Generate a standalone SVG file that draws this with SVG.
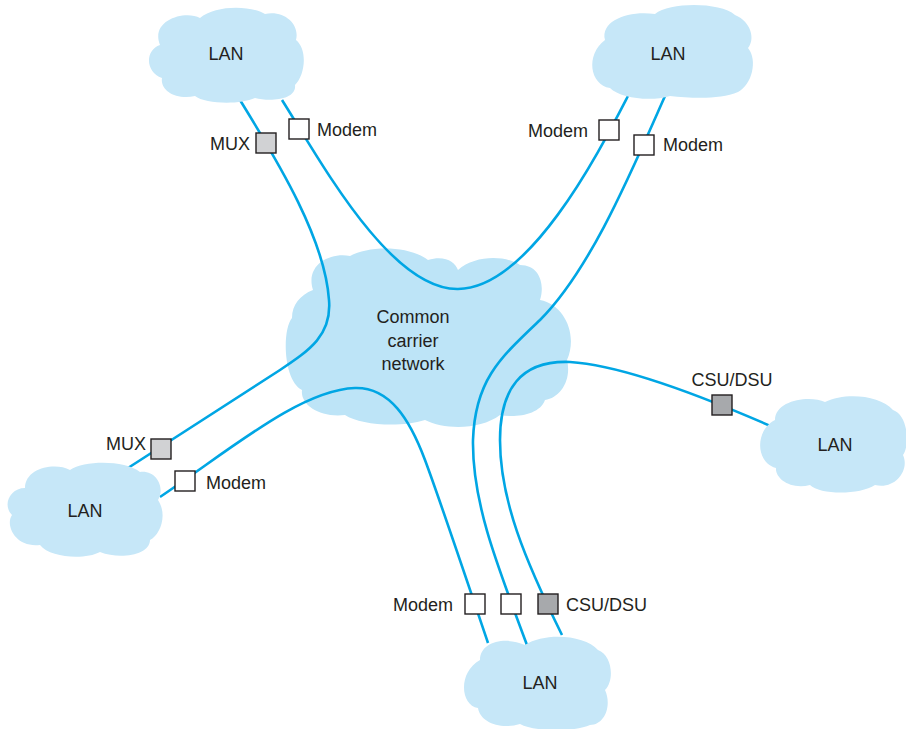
<svg xmlns="http://www.w3.org/2000/svg" width="906" height="729" viewBox="0 0 906 729">
<style>
.cloud{fill:#c6e7f8;stroke:none}
.core{fill:#bde4f7;stroke:none}
.link{fill:none;stroke:#00a6e4;stroke-width:2.6}
.box{stroke:#231f20;stroke-width:1.4}
.w{fill:#ffffff}
.g1{fill:#d1d2d4}
.g2{fill:#a7a9ac}
text{font-family:"Liberation Sans",Arial,sans-serif;font-size:18px;fill:#231f20}
.m{text-anchor:middle}
.e{text-anchor:end}
</style>
<rect width="906" height="729" fill="#ffffff"/>
<g id="carrier">
<path class="core" d="M313,290 C305,265 330,252 350,256 C370,245 410,246 428,260 C445,255 455,262 458,270 C475,255 505,255 520,265 C540,265 545,285 540,300 C565,305 578,335 567,360 C572,380 560,398 545,400 C540,415 515,418 500,415 C480,430 445,430 425,420 C400,428 360,425 345,415 C320,418 300,405 302,390 C283,380 282,330 292,318 C292,305 300,295 313,290 Z"/>
<text class="m" x="413" y="323">Common</text>
<text class="m" x="413" y="347">carrier</text>
<text class="m" x="413" y="370">network</text>
</g>
<g id="connectors">
<path class="link" d="M240,100 C280,165 325,240 329,300 C332,335 310,350 280,370 L128,468"/>
<path class="link" d="M282,100 C320,160 390,290 458,289 C530,288 600,150 628,96"/>
<path class="link" d="M665,96 C630,175 590,270 540,320 C500,358 475,380 473,440 C472,500 495,560 527,645"/>
<path class="link" d="M160,497 C230,450 300,390 355,388 C390,387 410,420 425,460 C440,500 470,590 488,643"/>
<path class="link" d="M775,428 C700,395 620,365 570,362 C520,360 500,390 500,440 C500,500 525,560 562,635"/>
</g>
<g id="lan-top-left">
<path class="cloud" d="M160,45 C150,20 185,10 200,18 C215,5 250,5 265,14 C285,10 300,25 296,40 C308,50 305,75 295,85 C297,100 270,102 255,98 C240,105 205,104 195,96 C175,100 160,90 162,78 C145,72 145,50 160,45 Z"/>
<text class="m" x="226" y="60">LAN</text>
</g>
<g id="lan-top-right">
<path class="cloud" d="M605,40 C600,20 630,10 655,14 C670,2 720,2 735,15 C752,22 755,40 748,48 C758,60 752,85 738,92 C720,100 690,98 670,96 C650,102 620,98 610,88 C590,85 585,55 605,40 Z"/>
<text class="m" x="668" y="60">LAN</text>
</g>
<g id="lan-right">
<path class="cloud" d="M775,420 C775,400 810,395 825,402 C845,392 880,395 893,410 C908,415 910,445 903,455 C910,470 895,490 875,485 C860,495 820,495 810,485 C790,490 775,478 776,468 C755,462 755,430 775,420 Z"/>
<text class="m" x="835" y="451">LAN</text>
</g>
<g id="lan-left">
<path class="cloud" d="M25,488 C25,468 55,462 70,470 C85,460 125,460 140,472 C158,470 165,490 158,500 C168,515 160,535 150,540 C150,555 120,560 100,552 C85,560 50,558 40,545 C15,548 5,525 12,515 C2,505 10,488 25,488 Z"/>
<text class="m" x="85" y="517">LAN</text>
</g>
<g id="lan-bottom">
<path class="cloud" d="M480,660 C480,642 505,636 525,645 C545,632 585,635 598,650 C612,655 615,680 605,690 C612,705 605,725 590,725 C575,732 535,732 520,724 C500,730 480,722 478,708 C460,705 458,672 480,660 Z"/>
<text class="m" x="540" y="689">LAN</text>
</g>
<g id="mux-top-left">
<rect class="box g1" x="256" y="133" width="20" height="20"/>
<text class="e" x="250" y="150">MUX</text>
</g>
<g id="modem-top-left">
<rect class="box w" x="289" y="119" width="20" height="20"/>
<text x="317" y="136">Modem</text>
</g>
<g id="modem-top-right-a">
<rect class="box w" x="599" y="120" width="20" height="20"/>
<text class="e" x="588" y="137">Modem</text>
</g>
<g id="modem-top-right-b">
<rect class="box w" x="634" y="135" width="20" height="20"/>
<text x="663" y="151">Modem</text>
</g>
<g id="mux-left">
<rect class="box g1" x="151" y="439" width="20" height="20"/>
<text class="e" x="146" y="450">MUX</text>
</g>
<g id="modem-left">
<rect class="box w" x="175" y="471" width="20" height="20"/>
<text x="206" y="489">Modem</text>
</g>
<g id="modem-bottom">
<rect class="box w" x="465" y="594" width="20" height="20"/>
<text class="e" x="453" y="611">Modem</text>
</g>
<g id="box-bottom-mid">
<rect class="box w" x="501" y="594" width="20" height="20"/>
</g>
<g id="csu-bottom">
<rect class="box g2" x="538" y="594" width="20" height="20"/>
<text x="566" y="611">CSU/DSU</text>
</g>
<g id="csu-right">
<rect class="box g2" x="712" y="395" width="20" height="20"/>
<text class="m" x="732" y="386">CSU/DSU</text>
</g>
</svg>
